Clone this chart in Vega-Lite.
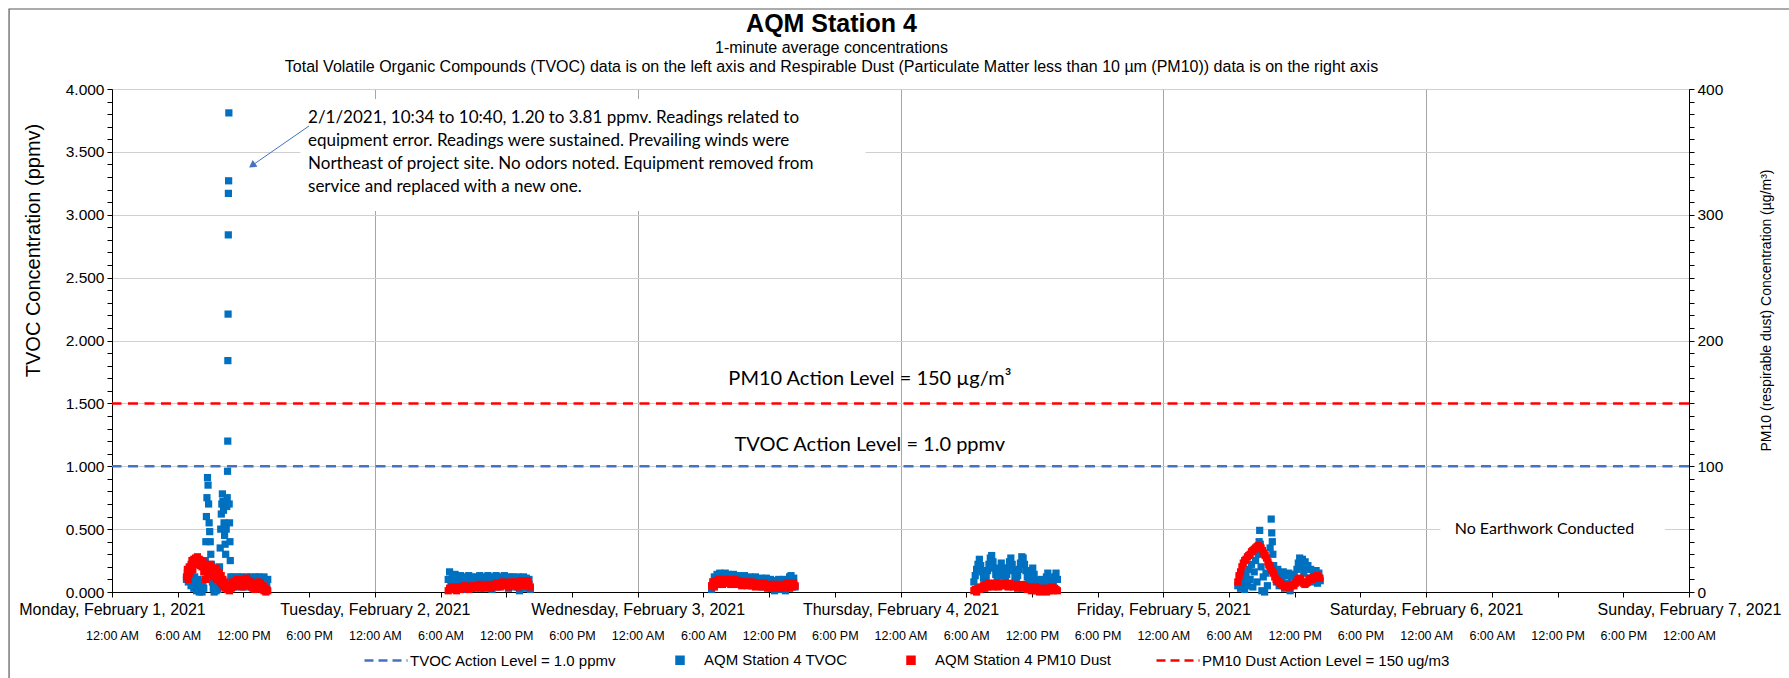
{
"$schema": "https://vega.github.io/schema/vega-lite/v6.json",
"width": 1577, "height": 503,
"autosize": "none",
"padding": {"left": 112, "top": 89, "right": 100, "bottom": 86},
"background": "white",
"config": {"font": "Arial", "view": {"stroke": null},
 "axis": {"labelFont": "Arial", "titleFont": "Arial", "labelColor": "#000", "titleColor": "#000", "domainColor": "#000", "tickColor": "#000", "titleFontWeight": "normal", "domainWidth": 1, "tickWidth": 1}},
"title": {"text": "AQM Station 4", "subtitle": ["1-minute average concentrations", "Total Volatile Organic Compounds (TVOC) data is on the left axis and Respirable Dust (Particulate Matter less than 10 µm (PM10)) data is on the right axis"],
 "anchor": "middle", "frame": "group", "dx": -69, "font": "Arial", "fontSize": 25, "fontWeight": "bold", "color": "#000", "subtitleFont": "Arial", "subtitleFontSize": 16, "subtitleColor": "#000", "subtitleLineHeight": 19.5, "subtitlePadding": 3, "offset": -66.6},
"datasets": {
"tvoc": [
{"h":6.80,"v":0.10},{"h":6.88,"v":0.15},{"h":6.97,"v":0.08},{"h":7.05,"v":0.18},{"h":7.13,"v":0.12},{"h":7.22,"v":0.05},{"h":7.30,"v":0.14},{"h":7.38,"v":0.09},{"h":7.47,"v":0.03},{"h":7.55,"v":0.12},{"h":7.63,"v":0.06},{"h":7.72,"v":0.01},{"h":7.80,"v":0.10},{"h":7.88,"v":0.04},{"h":7.97,"v":0.00},{"h":8.05,"v":0.08},{"h":8.13,"v":0.02},{"h":8.22,"v":0.00},{"h":8.30,"v":0.05},{"h":8.38,"v":0.03},{"h":8.47,"v":0.10},{"h":8.52,"v":0.25},{"h":8.57,"v":0.40},{"h":8.62,"v":0.60},{"h":8.67,"v":0.75},{"h":8.72,"v":0.91},{"h":8.77,"v":0.85},{"h":8.82,"v":0.70},{"h":8.87,"v":0.55},{"h":8.92,"v":0.48},{"h":8.97,"v":0.40},{"h":9.02,"v":0.30},{"h":9.07,"v":0.22},{"h":9.12,"v":0.15},{"h":9.17,"v":0.08},{"h":9.25,"v":0.03},{"h":9.33,"v":0.00},{"h":9.42,"v":0.05},{"h":9.50,"v":0.01},{"h":9.58,"v":0.06},{"h":9.67,"v":0.02},{"h":9.75,"v":0.10},{"h":9.82,"v":0.20},{"h":9.88,"v":0.35},{"h":9.93,"v":0.50},{"h":9.98,"v":0.62},{"h":10.03,"v":0.70},{"h":10.08,"v":0.78},{"h":10.13,"v":0.72},{"h":10.18,"v":0.65},{"h":10.23,"v":0.55},{"h":10.28,"v":0.45},{"h":10.33,"v":0.38},{"h":10.38,"v":0.30},{"h":10.43,"v":0.50},{"h":10.48,"v":0.68},{"h":10.52,"v":0.75},{"h":10.55,"v":0.96},{"h":10.57,"v":1.20},{"h":10.58,"v":1.84},{"h":10.60,"v":2.21},{"h":10.62,"v":2.84},{"h":10.63,"v":3.17},{"h":10.65,"v":3.27},{"h":10.67,"v":3.81},{"h":10.70,"v":0.70},{"h":10.73,"v":0.55},{"h":10.77,"v":0.40},{"h":10.80,"v":0.25},{"h":10.85,"v":0.12},{"h":10.90,"v":0.04},{"h":10.97,"v":0.08},{"h":11.05,"v":0.12},{"h":11.13,"v":0.06},{"h":11.22,"v":0.10},{"h":11.30,"v":0.04},{"h":11.38,"v":0.11},{"h":11.47,"v":0.07},{"h":11.55,"v":0.12},{"h":11.63,"v":0.05},{"h":11.72,"v":0.09},{"h":11.80,"v":0.12},{"h":11.88,"v":0.06},{"h":11.97,"v":0.10},{"h":12.05,"v":0.04},{"h":12.13,"v":0.11},{"h":12.22,"v":0.08},{"h":12.30,"v":0.12},{"h":12.38,"v":0.05},{"h":12.47,"v":0.10},{"h":12.55,"v":0.07},{"h":12.63,"v":0.12},{"h":12.72,"v":0.04},{"h":12.80,"v":0.10},{"h":12.88,"v":0.06},{"h":12.97,"v":0.11},{"h":13.05,"v":0.08},{"h":13.13,"v":0.12},{"h":13.22,"v":0.05},{"h":13.30,"v":0.09},{"h":13.38,"v":0.12},{"h":13.47,"v":0.06},{"h":13.55,"v":0.10},{"h":13.63,"v":0.04},{"h":13.72,"v":0.11},{"h":13.80,"v":0.07},{"h":13.88,"v":0.12},{"h":13.97,"v":0.05},{"h":14.05,"v":0.09},{"h":14.13,"v":0.06},{"h":14.22,"v":0.10},
{"h":30.700,"v":0.10},{"h":30.825,"v":0.16},{"h":30.950,"v":0.05},{"h":31.075,"v":0.13},{"h":31.200,"v":0.08},{"h":31.325,"v":0.14},{"h":31.450,"v":0.03},{"h":31.575,"v":0.12},{"h":31.700,"v":0.09},{"h":31.825,"v":0.13},{"h":31.950,"v":0.06},{"h":32.075,"v":0.12},{"h":32.200,"v":0.02},{"h":32.325,"v":0.11},{"h":32.450,"v":0.08},{"h":32.575,"v":0.13},{"h":32.700,"v":0.05},{"h":32.825,"v":0.12},{"h":32.950,"v":0.09},{"h":33.075,"v":0.11},{"h":33.200,"v":0.04},{"h":33.325,"v":0.12},{"h":33.450,"v":0.07},{"h":33.575,"v":0.13},{"h":33.700,"v":0.03},{"h":33.825,"v":0.11},{"h":33.950,"v":0.08},{"h":34.075,"v":0.12},{"h":34.200,"v":0.05},{"h":34.325,"v":0.13},{"h":34.450,"v":0.09},{"h":34.575,"v":0.11},{"h":34.700,"v":0.02},{"h":34.825,"v":0.12},{"h":34.950,"v":0.07},{"h":35.075,"v":0.13},{"h":35.200,"v":0.04},{"h":35.325,"v":0.11},{"h":35.450,"v":0.09},{"h":35.575,"v":0.12},{"h":35.700,"v":0.06},{"h":35.825,"v":0.13},{"h":35.950,"v":0.08},{"h":36.075,"v":0.11},{"h":36.200,"v":0.03},{"h":36.325,"v":0.12},{"h":36.450,"v":0.07},{"h":36.575,"v":0.12},{"h":36.700,"v":0.04},{"h":36.825,"v":0.11},{"h":36.950,"v":0.08},{"h":37.075,"v":0.12},{"h":37.200,"v":0.01},{"h":37.325,"v":0.10},{"h":37.450,"v":0.06},{"h":37.575,"v":0.12},{"h":37.700,"v":0.03},{"h":37.825,"v":0.11},{"h":37.950,"v":0.05},{"h":38.075,"v":0.10},{"h":38.200,"v":0.02},
{"h":54.750,"v":0.02},{"h":54.875,"v":0.08},{"h":55.000,"v":0.12},{"h":55.125,"v":0.06},{"h":55.250,"v":0.14},{"h":55.375,"v":0.10},{"h":55.500,"v":0.15},{"h":55.625,"v":0.08},{"h":55.750,"v":0.13},{"h":55.875,"v":0.11},{"h":56.000,"v":0.15},{"h":56.125,"v":0.09},{"h":56.250,"v":0.14},{"h":56.375,"v":0.07},{"h":56.500,"v":0.13},{"h":56.625,"v":0.10},{"h":56.750,"v":0.14},{"h":56.875,"v":0.08},{"h":57.000,"v":0.12},{"h":57.125,"v":0.10},{"h":57.250,"v":0.13},{"h":57.375,"v":0.06},{"h":57.500,"v":0.12},{"h":57.625,"v":0.09},{"h":57.750,"v":0.13},{"h":57.875,"v":0.07},{"h":58.000,"v":0.11},{"h":58.125,"v":0.09},{"h":58.250,"v":0.12},{"h":58.375,"v":0.05},{"h":58.500,"v":0.11},{"h":58.625,"v":0.08},{"h":58.750,"v":0.12},{"h":58.875,"v":0.06},{"h":59.000,"v":0.10},{"h":59.125,"v":0.08},{"h":59.250,"v":0.11},{"h":59.375,"v":0.04},{"h":59.500,"v":0.10},{"h":59.625,"v":0.07},{"h":59.750,"v":0.11},{"h":59.875,"v":0.05},{"h":60.000,"v":0.09},{"h":60.125,"v":0.10},{"h":60.250,"v":0.03},{"h":60.375,"v":0.08},{"h":60.500,"v":0.01},{"h":60.625,"v":0.09},{"h":60.750,"v":0.04},{"h":60.875,"v":0.10},{"h":61.000,"v":0.02},{"h":61.125,"v":0.08},{"h":61.250,"v":0.05},{"h":61.375,"v":0.10},{"h":61.500,"v":0.01},{"h":61.625,"v":0.09},{"h":61.750,"v":0.06},{"h":61.875,"v":0.12},{"h":62.000,"v":0.13},{"h":62.125,"v":0.07},{"h":62.250,"v":0.11},{"h":62.375,"v":0.04},
{"h":78.700,"v":0.08},{"h":78.825,"v":0.13},{"h":78.950,"v":0.18},{"h":79.075,"v":0.22},{"h":79.200,"v":0.26},{"h":79.325,"v":0.21},{"h":79.450,"v":0.16},{"h":79.575,"v":0.11},{"h":79.700,"v":0.07},{"h":79.825,"v":0.12},{"h":79.950,"v":0.17},{"h":80.075,"v":0.22},{"h":80.200,"v":0.27},{"h":80.325,"v":0.29},{"h":80.450,"v":0.24},{"h":80.575,"v":0.19},{"h":80.700,"v":0.14},{"h":80.825,"v":0.09},{"h":80.950,"v":0.13},{"h":81.075,"v":0.18},{"h":81.200,"v":0.23},{"h":81.325,"v":0.19},{"h":81.450,"v":0.14},{"h":81.575,"v":0.09},{"h":81.700,"v":0.14},{"h":81.825,"v":0.19},{"h":81.950,"v":0.24},{"h":82.075,"v":0.27},{"h":82.200,"v":0.22},{"h":82.325,"v":0.17},{"h":82.450,"v":0.12},{"h":82.575,"v":0.08},{"h":82.700,"v":0.13},{"h":82.825,"v":0.18},{"h":82.950,"v":0.23},{"h":83.075,"v":0.28},{"h":83.200,"v":0.27},{"h":83.325,"v":0.22},{"h":83.450,"v":0.17},{"h":83.575,"v":0.12},{"h":83.700,"v":0.07},{"h":83.825,"v":0.12},{"h":83.950,"v":0.17},{"h":84.075,"v":0.19},{"h":84.200,"v":0.14},{"h":84.325,"v":0.09},{"h":84.450,"v":0.04},{"h":84.575,"v":0.01},{"h":84.700,"v":0.05},{"h":84.825,"v":0.10},{"h":84.950,"v":0.06},{"h":85.075,"v":0.02},{"h":85.200,"v":0.07},{"h":85.325,"v":0.12},{"h":85.450,"v":0.15},{"h":85.575,"v":0.11},{"h":85.700,"v":0.06},{"h":85.825,"v":0.02},{"h":85.950,"v":0.07},{"h":86.075,"v":0.12},{"h":86.200,"v":0.15},{"h":86.325,"v":0.10},
{"h":102.800,"v":0.05},{"h":102.925,"v":0.12},{"h":103.050,"v":0.03},{"h":103.175,"v":0.15},{"h":103.300,"v":0.08},{"h":103.425,"v":0.02},{"h":103.550,"v":0.13},{"h":103.675,"v":0.05},{"h":103.800,"v":0.18},{"h":103.925,"v":0.10},{"h":104.050,"v":0.22},{"h":104.175,"v":0.04},{"h":104.300,"v":0.16},{"h":104.425,"v":0.25},{"h":104.550,"v":0.08},{"h":104.675,"v":0.30},{"h":104.750,"v":0.40},{"h":104.800,"v":0.49},{"h":104.850,"v":0.38},{"h":104.925,"v":0.20},{"h":105.000,"v":0.01},{"h":105.125,"v":0.12},{"h":105.250,"v":0.00},{"h":105.375,"v":0.15},{"h":105.500,"v":0.05},{"h":105.625,"v":0.22},{"h":105.750,"v":0.35},{"h":105.850,"v":0.58},{"h":105.900,"v":0.47},{"h":105.950,"v":0.40},{"h":106.000,"v":0.30},{"h":106.075,"v":0.21},{"h":106.200,"v":0.16},{"h":106.325,"v":0.08},{"h":106.450,"v":0.18},{"h":106.575,"v":0.05},{"h":106.700,"v":0.14},{"h":106.825,"v":0.09},{"h":106.950,"v":0.16},{"h":107.075,"v":0.03},{"h":107.200,"v":0.13},{"h":107.325,"v":0.07},{"h":107.450,"v":0.15},{"h":107.575,"v":0.01},{"h":107.700,"v":0.12},{"h":107.825,"v":0.06},{"h":107.950,"v":0.14},{"h":108.075,"v":0.09},{"h":108.200,"v":0.18},{"h":108.325,"v":0.23},{"h":108.450,"v":0.27},{"h":108.575,"v":0.20},{"h":108.700,"v":0.26},{"h":108.825,"v":0.15},{"h":108.950,"v":0.24},{"h":109.075,"v":0.18},{"h":109.200,"v":0.21},{"h":109.325,"v":0.11},{"h":109.450,"v":0.18},{"h":109.575,"v":0.08},{"h":109.700,"v":0.16},{"h":109.825,"v":0.10},{"h":109.950,"v":0.17},{"h":110.075,"v":0.07},{"h":110.200,"v":0.15},{"h":110.325,"v":0.09}
],
"pm": [
{"h":6.80,"v":12},{"h":6.88,"v":18},{"h":6.97,"v":10},{"h":7.05,"v":20},{"h":7.13,"v":15},{"h":7.22,"v":22},{"h":7.30,"v":25},{"h":7.38,"v":18},{"h":7.47,"v":26},{"h":7.55,"v":22},{"h":7.63,"v":27},{"h":7.72,"v":24},{"h":7.80,"v":28},{"h":7.88,"v":23},{"h":7.97,"v":26},{"h":8.05,"v":21},{"h":8.13,"v":25},{"h":8.22,"v":20},{"h":8.30,"v":24},{"h":8.38,"v":16},{"h":8.47,"v":22},{"h":8.55,"v":10},{"h":8.63,"v":18},{"h":8.72,"v":14},{"h":8.80,"v":20},{"h":8.88,"v":17},{"h":8.97,"v":22},{"h":9.05,"v":15},{"h":9.13,"v":20},{"h":9.22,"v":12},{"h":9.30,"v":18},{"h":9.38,"v":14},{"h":9.47,"v":19},{"h":9.55,"v":10},{"h":9.63,"v":16},{"h":9.72,"v":12},{"h":9.80,"v":15},{"h":9.88,"v":8},{"h":9.97,"v":13},{"h":10.05,"v":6},{"h":10.13,"v":10},{"h":10.22,"v":4},{"h":10.30,"v":8},{"h":10.38,"v":3},{"h":10.47,"v":6},{"h":10.55,"v":2},{"h":10.63,"v":4},{"h":10.72,"v":1},{"h":10.80,"v":5},{"h":10.88,"v":3},{"h":10.97,"v":7},{"h":11.05,"v":4},{"h":11.13,"v":8},{"h":11.22,"v":5},{"h":11.30,"v":9},{"h":11.38,"v":6},{"h":11.47,"v":10},{"h":11.55,"v":7},{"h":11.63,"v":9},{"h":11.72,"v":5},{"h":11.80,"v":8},{"h":11.88,"v":4},{"h":11.97,"v":7},{"h":12.05,"v":6},{"h":12.13,"v":10},{"h":12.22,"v":8},{"h":12.30,"v":11},{"h":12.38,"v":7},{"h":12.47,"v":9},{"h":12.55,"v":5},{"h":12.63,"v":8},{"h":12.72,"v":4},{"h":12.80,"v":7},{"h":12.88,"v":3},{"h":12.97,"v":6},{"h":13.05,"v":2},{"h":13.13,"v":5},{"h":13.22,"v":3},{"h":13.30,"v":6},{"h":13.38,"v":8},{"h":13.47,"v":5},{"h":13.55,"v":7},{"h":13.63,"v":4},{"h":13.72,"v":2},{"h":13.80,"v":5},{"h":13.88,"v":1},{"h":13.97,"v":3},{"h":14.05,"v":0},{"h":14.13,"v":2},{"h":14.22,"v":1},
{"h":30.700,"v":1},{"h":30.825,"v":3},{"h":30.950,"v":2},{"h":31.075,"v":4},{"h":31.200,"v":2},{"h":31.325,"v":3},{"h":31.450,"v":1},{"h":31.575,"v":4},{"h":31.700,"v":3},{"h":31.825,"v":2},{"h":31.950,"v":4},{"h":32.075,"v":3},{"h":32.200,"v":5},{"h":32.325,"v":3},{"h":32.450,"v":4},{"h":32.575,"v":2},{"h":32.700,"v":4},{"h":32.825,"v":3},{"h":32.950,"v":5},{"h":33.075,"v":4},{"h":33.200,"v":3},{"h":33.325,"v":5},{"h":33.450,"v":4},{"h":33.575,"v":6},{"h":33.700,"v":4},{"h":33.825,"v":5},{"h":33.950,"v":3},{"h":34.075,"v":5},{"h":34.200,"v":4},{"h":34.325,"v":6},{"h":34.450,"v":5},{"h":34.575,"v":3},{"h":34.700,"v":5},{"h":34.825,"v":6},{"h":34.950,"v":4},{"h":35.075,"v":6},{"h":35.200,"v":7},{"h":35.325,"v":5},{"h":35.450,"v":4},{"h":35.575,"v":6},{"h":35.700,"v":8},{"h":35.825,"v":6},{"h":35.950,"v":5},{"h":36.075,"v":7},{"h":36.200,"v":4},{"h":36.325,"v":6},{"h":36.450,"v":8},{"h":36.575,"v":7},{"h":36.700,"v":5},{"h":36.825,"v":8},{"h":36.950,"v":6},{"h":37.075,"v":4},{"h":37.200,"v":7},{"h":37.325,"v":9},{"h":37.450,"v":6},{"h":37.575,"v":8},{"h":37.700,"v":5},{"h":37.825,"v":7},{"h":37.950,"v":9},{"h":38.075,"v":6},{"h":38.200,"v":4},
{"h":54.750,"v":5},{"h":54.875,"v":8},{"h":55.000,"v":4},{"h":55.125,"v":9},{"h":55.250,"v":6},{"h":55.375,"v":10},{"h":55.500,"v":7},{"h":55.625,"v":9},{"h":55.750,"v":6},{"h":55.875,"v":10},{"h":56.000,"v":8},{"h":56.125,"v":7},{"h":56.250,"v":10},{"h":56.375,"v":8},{"h":56.500,"v":6},{"h":56.625,"v":9},{"h":56.750,"v":7},{"h":56.875,"v":10},{"h":57.000,"v":8},{"h":57.125,"v":6},{"h":57.250,"v":9},{"h":57.375,"v":7},{"h":57.500,"v":5},{"h":57.625,"v":8},{"h":57.750,"v":6},{"h":57.875,"v":8},{"h":58.000,"v":5},{"h":58.125,"v":7},{"h":58.250,"v":6},{"h":58.375,"v":8},{"h":58.500,"v":5},{"h":58.625,"v":7},{"h":58.750,"v":4},{"h":58.875,"v":6},{"h":59.000,"v":7},{"h":59.125,"v":5},{"h":59.250,"v":6},{"h":59.375,"v":4},{"h":59.500,"v":7},{"h":59.625,"v":5},{"h":59.750,"v":6},{"h":59.875,"v":3},{"h":60.000,"v":5},{"h":60.125,"v":6},{"h":60.250,"v":4},{"h":60.375,"v":6},{"h":60.500,"v":3},{"h":60.625,"v":5},{"h":60.750,"v":6},{"h":60.875,"v":4},{"h":61.000,"v":6},{"h":61.125,"v":3},{"h":61.250,"v":5},{"h":61.375,"v":6},{"h":61.500,"v":4},{"h":61.625,"v":7},{"h":61.750,"v":5},{"h":61.875,"v":3},{"h":62.000,"v":6},{"h":62.125,"v":4},{"h":62.250,"v":7},{"h":62.375,"v":5},
{"h":78.700,"v":1},{"h":78.825,"v":2},{"h":78.950,"v":0},{"h":79.075,"v":3},{"h":79.200,"v":2},{"h":79.325,"v":4},{"h":79.450,"v":3},{"h":79.575,"v":5},{"h":79.700,"v":3},{"h":79.825,"v":6},{"h":79.950,"v":4},{"h":80.075,"v":7},{"h":80.200,"v":5},{"h":80.325,"v":6},{"h":80.450,"v":4},{"h":80.575,"v":7},{"h":80.700,"v":5},{"h":80.825,"v":6},{"h":80.950,"v":4},{"h":81.075,"v":7},{"h":81.200,"v":5},{"h":81.325,"v":6},{"h":81.450,"v":7},{"h":81.575,"v":5},{"h":81.700,"v":6},{"h":81.825,"v":4},{"h":81.950,"v":7},{"h":82.075,"v":5},{"h":82.200,"v":6},{"h":82.325,"v":4},{"h":82.450,"v":6},{"h":82.575,"v":5},{"h":82.700,"v":3},{"h":82.825,"v":5},{"h":82.950,"v":4},{"h":83.075,"v":6},{"h":83.200,"v":3},{"h":83.325,"v":5},{"h":83.450,"v":4},{"h":83.575,"v":2},{"h":83.700,"v":4},{"h":83.825,"v":3},{"h":83.950,"v":1},{"h":84.075,"v":3},{"h":84.200,"v":2},{"h":84.325,"v":4},{"h":84.450,"v":1},{"h":84.575,"v":3},{"h":84.700,"v":0},{"h":84.825,"v":2},{"h":84.950,"v":3},{"h":85.075,"v":1},{"h":85.200,"v":2},{"h":85.325,"v":0},{"h":85.450,"v":3},{"h":85.575,"v":1},{"h":85.700,"v":2},{"h":85.825,"v":4},{"h":85.950,"v":1},{"h":86.075,"v":3},{"h":86.200,"v":2},{"h":86.325,"v":1},
{"h":102.800,"v":8},{"h":102.925,"v":13},{"h":103.050,"v":16},{"h":103.175,"v":20},{"h":103.300,"v":23},{"h":103.425,"v":25},{"h":103.550,"v":26},{"h":103.675,"v":28},{"h":103.800,"v":29},{"h":103.925,"v":30},{"h":104.050,"v":32},{"h":104.175,"v":33},{"h":104.300,"v":34},{"h":104.425,"v":35},{"h":104.550,"v":36},{"h":104.675,"v":37},{"h":104.800,"v":36},{"h":104.925,"v":35},{"h":105.050,"v":33},{"h":105.175,"v":31},{"h":105.300,"v":29},{"h":105.425,"v":27},{"h":105.550,"v":24},{"h":105.675,"v":21},{"h":105.800,"v":19},{"h":105.925,"v":17},{"h":106.050,"v":15},{"h":106.175,"v":12},{"h":106.300,"v":10},{"h":106.425,"v":9},{"h":106.550,"v":8},{"h":106.675,"v":7},{"h":106.800,"v":6},{"h":106.925,"v":5},{"h":107.050,"v":5},{"h":107.175,"v":4},{"h":107.300,"v":4},{"h":107.425,"v":5},{"h":107.550,"v":4},{"h":107.675,"v":5},{"h":107.800,"v":6},{"h":107.925,"v":5},{"h":108.050,"v":7},{"h":108.175,"v":8},{"h":108.300,"v":10},{"h":108.425,"v":11},{"h":108.550,"v":10},{"h":108.675,"v":8},{"h":108.800,"v":7},{"h":108.925,"v":6},{"h":109.050,"v":7},{"h":109.175,"v":8},{"h":109.300,"v":10},{"h":109.425,"v":11},{"h":109.550,"v":10},{"h":109.675,"v":11},{"h":109.800,"v":12},{"h":109.925,"v":11},{"h":110.050,"v":13},{"h":110.175,"v":12},{"h":110.300,"v":11}
]
},
"layer": [
{"data": {"values": [{}]},
 "mark": {"type": "rule", "strokeDash": [10, 6.5], "strokeWidth": 2.5},
 "encoding": {
  "y": {"datum": 1, "type": "quantitative", "scale": {"domain": [0, 4], "nice": false},
   "axis": {"orient": "left", "values": [0, 0.5, 1, 1.5, 2, 2.5, 3, 3.5, 4], "grid": true, "gridColor": "#D0D0D0", "gridWidth": 1, "labels": false, "ticks": false, "domain": false, "title": null}},
  "color": {"datum": "TVOC Action Level = 1.0 ppmv", "type": "nominal",
   "scale": {"domain": ["TVOC Action Level = 1.0 ppmv", "AQM Station 4 TVOC", "AQM Station 4 PM10 Dust", "PM10 Dust Action Level = 150 ug/m3"], "range": ["#4472C4", "#0070C0", "#FF0000", "#FF0000"]},
   "legend": {"title": null, "orient": "none", "legendX": 251, "legendY": 548, "direction": "horizontal", "columns": 4, "columnPadding": 40,
    "symbolSize": 1849, "symbolType": "stroke", "symbolStrokeWidth": 2.5, "labelFontSize": 15, "labelFont": "Arial", "labelColor": "#000", "labelOffset": 1, "labelLimit": 400,
    "encode": {"symbols": {"update": {
     "shape": {"signal": "indexof(datum.value, 'Action') >= 0 ? 'stroke' : 'M-0.163,-0.163H0.163V0.163H-0.163Z'"},
     "strokeDash": {"signal": "indexof(datum.value, 'Action') >= 0 ? [9, 5] : [1, 0]"},
     "stroke": {"signal": "indexof(datum.value, 'Action') >= 0 ? scale('color', datum.value) : 'transparent'"},
     "fill": {"signal": "indexof(datum.value, 'Action') >= 0 ? 'transparent' : scale('color', datum.value)"},
     "opacity": {"value": 1}}}}}}
 }},
{"data": {"name": "tvoc"},
 "mark": {"type": "point", "shape": "square", "filled": true, "size": 52, "opacity": 1},
 "encoding": {
  "x": {"field": "h", "type": "quantitative", "scale": {"domain": [0, 144], "nice": false, "zero": false},
   "axis": {"orient": "bottom", "values": [0, 24, 48, 72, 96, 120, 144],
    "labelExpr": "['Monday, February 1, 2021','Tuesday, February 2, 2021','Wednesday, February 3, 2021','Thursday, February 4, 2021','Friday, February 5, 2021','Saturday, February 6, 2021','Sunday, February 7, 2021'][round(datum.value/24)]",
    "grid": true, "gridColor": "#A6A6A6", "gridWidth": 1, "ticks": false, "tickSize": 0, "domain": false, "labelPadding": 9, "labelFontSize": 16, "labelLimit": 400, "labelFlush": false, "labelOverlap": false, "labelBound": false, "title": null}},
  "y": {"field": "v", "type": "quantitative", "scale": {"domain": [0, 4], "nice": false},
   "axis": {"orient": "left", "values": [0,0.1,0.2,0.3,0.4,0.5,0.6,0.7,0.8,0.9,1,1.1,1.2,1.3,1.4,1.5,1.6,1.7,1.8,1.9,2,2.1,2.2,2.3,2.4,2.5,2.6,2.7,2.8,2.9,3,3.1,3.2,3.3,3.4,3.5,3.6,3.7,3.8,3.9,4],
    "labelExpr": "abs(datum.value*2 - round(datum.value*2)) < 0.001 ? format(datum.value, '.3f') : ''",
    "grid": false, "tickSize": 5, "domain": true, "labelFontSize": 15.5, "labelPadding": 3, "labelOverlap": false, "labelFlush": false,
    "title": "TVOC Concentration (ppmv)", "titleFontSize": 20, "titlePadding": 22, "titleY": 161}},
  "color": {"datum": "AQM Station 4 TVOC", "type": "nominal"}
 }},
{"data": {"name": "pm"},
 "mark": {"type": "point", "shape": "square", "filled": true, "size": 52, "opacity": 1},
 "encoding": {
  "x": {"field": "h", "type": "quantitative", "scale": {"domain": [0, 144], "nice": false, "zero": false},
   "axis": {"orient": "bottom", "values": [0,6,12,18,24,30,36,42,48,54,60,66,72,78,84,90,96,102,108,114,120,126,132,138,144],
    "labelExpr": "['12:00 AM','6:00 AM','12:00 PM','6:00 PM'][round(datum.value/6)%4]",
    "grid": false, "ticks": true, "tickSize": 5, "domain": true, "labelPadding": 32, "labelFontSize": 12.5, "labelFlush": false, "labelOverlap": false, "labelBound": false, "title": null}},
  "y": {"field": "v", "type": "quantitative", "scale": {"domain": [0, 400], "nice": false},
   "axis": {"orient": "right", "values": [0,10,20,30,40,50,60,70,80,90,100,110,120,130,140,150,160,170,180,190,200,210,220,230,240,250,260,270,280,290,300,310,320,330,340,350,360,370,380,390,400],
    "labelExpr": "datum.value % 100 == 0 ? format(datum.value, 'd') : ''",
    "grid": false, "tickSize": 5, "domain": true, "labelFontSize": 15.5, "labelPadding": 3, "labelOverlap": false, "labelFlush": false,
    "title": "PM10 (respirable dust) Concentration (µg/m³)", "titleFontSize": 14, "titleAngle": 270, "titleBaseline": "top", "titlePadding": 37, "titleY": 221}},
  "color": {"datum": "AQM Station 4 PM10 Dust", "type": "nominal"}
 }},
{"data": {"values": [{}]},
 "mark": {"type": "rule", "strokeDash": [10, 6.5], "strokeWidth": 2.5},
 "encoding": {
  "y": {"datum": 150, "type": "quantitative", "scale": {"domain": [0, 400], "nice": false}, "axis": null},
  "color": {"datum": "PM10 Dust Action Level = 150 ug/m3", "type": "nominal"}
 }},
{"data": {"values": [{}]},
 "mark": {"type": "rect", "fill": "white"},
 "encoding": {
  "x": {"datum": 17.2, "type": "quantitative", "scale": {"domain": [0, 144], "nice": false, "zero": false}, "axis": null},
  "x2": {"datum": 68.8},
  "y": {"datum": 3.92, "type": "quantitative", "scale": {"domain": [0, 4], "nice": false}, "axis": null},
  "y2": {"datum": 3.03}
 }},
{"data": {"values": [{}]},
 "mark": {"type": "rect", "fill": "white"},
 "encoding": {
  "x": {"datum": 121.3, "type": "quantitative", "scale": {"domain": [0, 144], "nice": false, "zero": false}, "axis": null},
  "x2": {"datum": 141.8},
  "y": {"datum": 0.6, "type": "quantitative", "scale": {"domain": [0, 4], "nice": false}, "axis": null},
  "y2": {"datum": 0.4}
 }},
{"data": {"values": [{}]},
 "mark": {"type": "rect", "fill": null, "stroke": "#595959", "strokeWidth": 1.2, "clip": false},
 "encoding": {
  "x": {"datum": -9.4, "type": "quantitative", "scale": {"domain": [0, 144], "nice": false, "zero": false}, "axis": null},
  "x2": {"datum": 153.4},
  "y": {"datum": 4.636, "type": "quantitative", "scale": {"domain": [0, 4], "nice": false}, "axis": null},
  "y2": {"datum": -0.72}
 }},
{"data": {"values": [{}]},
 "mark": {"type": "text", "align": "left", "baseline": "top", "font": "Lato", "fontSize": 17, "lineHeight": 22.8, "color": "#000",
  "text": ["2/1/2021, 10:34 to 10:40, 1.20 to 3.81 ppmv. Readings related to", "equipment error. Readings were sustained. Prevailing winds were", "Northeast of project site. No odors noted. Equipment removed from", "service and replaced with a new one."]},
 "encoding": {
  "x": {"datum": 17.9, "type": "quantitative", "scale": {"domain": [0, 144], "nice": false, "zero": false}, "axis": null},
  "y": {"datum": 3.83, "type": "quantitative", "scale": {"domain": [0, 4], "nice": false}, "axis": null}
 }},
{"data": {"values": [{}]},
 "mark": {"type": "text", "align": "center", "baseline": "middle", "font": "Lato", "fontSize": 16, "color": "#000", "text": "No  Earthwork Conducted"},
 "encoding": {
  "x": {"datum": 130.8, "type": "quantitative", "scale": {"domain": [0, 144], "nice": false, "zero": false}, "axis": null},
  "y": {"datum": 0.5, "type": "quantitative", "scale": {"domain": [0, 4], "nice": false}, "axis": null}
 }},
{"data": {"values": [{}]},
 "mark": {"type": "text", "align": "center", "baseline": "middle", "font": "Lato", "fontSize": 20, "color": "#000", "text": "PM10 Action Level = 150 µg/m³"},
 "encoding": {
  "x": {"datum": 69.2, "type": "quantitative", "scale": {"domain": [0, 144], "nice": false, "zero": false}, "axis": null},
  "y": {"datum": 1.69, "type": "quantitative", "scale": {"domain": [0, 4], "nice": false}, "axis": null}
 }},
{"data": {"values": [{}]},
 "mark": {"type": "text", "align": "center", "baseline": "middle", "font": "Lato", "fontSize": 20, "color": "#000", "text": "TVOC Action Level = 1.0 ppmv"},
 "encoding": {
  "x": {"datum": 69.2, "type": "quantitative", "scale": {"domain": [0, 144], "nice": false, "zero": false}, "axis": null},
  "y": {"datum": 1.172, "type": "quantitative", "scale": {"domain": [0, 4], "nice": false}, "axis": null}
 }},
{"data": {"values": [{}]},
 "mark": {"type": "rule", "color": "#4472C4", "strokeWidth": 1},
 "encoding": {
  "x": {"datum": 17.99, "type": "quantitative", "scale": {"domain": [0, 144], "nice": false, "zero": false}, "axis": null},
  "x2": {"datum": 12.79},
  "y": {"datum": 3.706, "type": "quantitative", "scale": {"domain": [0, 4], "nice": false}, "axis": null},
  "y2": {"datum": 3.392}
 }},
{"data": {"values": [{}]},
 "mark": {"type": "point", "shape": "triangle-up", "filled": true, "size": 70, "angle": 235.5, "color": "#4472C4", "opacity": 1},
 "encoding": {
  "x": {"datum": 12.79, "type": "quantitative", "scale": {"domain": [0, 144], "nice": false, "zero": false}, "axis": null},
  "y": {"datum": 3.392, "type": "quantitative", "scale": {"domain": [0, 4], "nice": false}, "axis": null}
 }}
],
"resolve": {"scale": {"y": "independent"}, "axis": {"x": "independent", "y": "independent"}}
}
